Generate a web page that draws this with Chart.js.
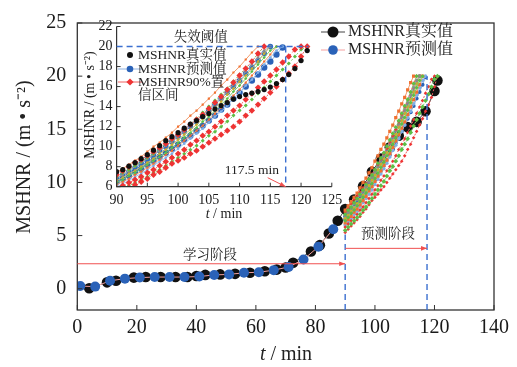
<!DOCTYPE html>
<html>
<head>
<meta charset="utf-8">
<script src="https://cdn.jsdelivr.net/npm/chart.js@4.4.1/dist/chart.umd.min.js"></script>
<style>
  html, body { margin: 0; padding: 0; background: #fff; }
  #wrap { position: relative; width: 517px; height: 367px; }
  #wrap canvas { position: absolute; left: 0; top: 0; }
</style>
</head>
<body>
<div id="wrap">
  <canvas id="main" width="517" height="367"></canvas>
  <canvas id="inset" width="517" height="367"></canvas>
</div>
<script>
// --- Data ---
// learning phase (0-90 min)
const learnTrueT = [4, 10, 13, 19, 23, 28, 33, 37, 40, 43, 48, 53, 58, 63, 67, 70, 72.5, 78.5, 81.5, 84.5, 87.5];
const learnTrueV = [0.05, 0.6, 0.75, 1.05, 1.1, 1.1, 1.1, 1.1, 1.2, 1.3, 1.35, 1.4, 1.5, 1.65, 1.8, 2.0, 2.45, 3.5, 4.1, 5.2, 6.4];
const learnPredT = [1, 6, 11, 16, 21, 26, 31, 36, 41, 46, 51, 56, 61, 66, 71, 76, 81, 86];
const learnPredV = [0.25, 0.2, 0.75, 0.95, 1.05, 1.1, 1.1, 1.1, 1.15, 1.3, 1.35, 1.5, 1.55, 1.75, 2.05, 2.75, 3.95, 5.6];

// prediction phase (90-121 min), 1 min grid
const predT = [90, 91, 92, 93, 94, 95, 96, 97, 98, 99, 100, 101, 102, 103, 104, 105,
  106, 107, 108, 109, 110, 111, 112, 113, 114, 115, 116, 117, 118, 119, 120, 121];
const trueV = [7.5, 7.7, 8.05, 8.4, 8.8, 9.2, 9.65, 10.1, 10.6, 11.0, 11.4, 11.85, 12.25, 12.6, 13.0, 13.3,
  13.75, 14.1, 14.4, 14.75, 15.0, 15.2, 15.35, 15.5, 15.7, 15.95, 16.3, 16.7, 17.2, 17.8, 18.6, 19.6];
const predV = [6.5, 6.8, 7.1, 7.5, 7.8, 8.2, 8.6, 9.0, 9.4, 9.8, 10.2, 10.7, 11.1, 11.6, 12.1, 12.6,
  13.1, 13.7, 14.2, 14.8, 15.4, 16.0, 16.6, 17.2, 17.9, 18.5, 19.2, 19.9];
const redUpper = [7.2, 7.6, 8.0, 8.4, 8.7, 9.1, 9.5, 9.9, 10.3, 10.8, 11.2, 11.7, 12.2, 12.7, 13.2, 13.8,
  14.4, 15.0, 15.7, 16.4, 17.1, 17.8, 18.5, 19.3, 20.0];
const redMid = [5.8, 6.1, 6.4, 6.7, 7.0, 7.4, 7.7, 8.1, 8.5, 8.9, 9.3, 9.7, 10.2, 10.6, 11.1, 11.5,
  12.0, 12.5, 13.1, 13.6, 14.1, 14.7, 15.3, 15.9, 16.5, 17.1, 17.7, 18.4, 19.0, 19.7, 20.0];
const redLower = [5.3, 5.6, 5.9, 6.2, 6.5, 6.8, 7.2, 7.5, 7.9, 8.3, 8.6, 8.9, 9.3, 9.6, 10.0, 10.4,
  10.8, 11.2, 11.6, 12.0, 12.5, 13.1, 13.6, 14.2, 14.8, 15.4, 16.0, 16.7, 17.3, 18.0, 19.0, 20.0];
const greenUpper = [7.0, 7.4, 7.7, 8.1, 8.5, 8.9, 9.3, 9.8, 10.3, 10.7, 11.2, 11.8, 12.3, 12.8, 13.4, 14.0,
  14.6, 15.2, 15.8, 16.5, 17.2, 17.8, 18.5, 19.3, 20.0];
const greenMid = [6.4, 6.7, 7.1, 7.4, 7.8, 8.2, 8.6, 9.0, 9.4, 9.9, 10.4, 10.9, 11.4, 11.9, 12.5, 13.0,
  13.6, 14.2, 14.8, 15.5, 16.1, 16.8, 17.5, 18.2, 18.9, 19.6, 20.0];
const greenLower = [5.5, 5.8, 6.1, 6.4, 6.7, 7.0, 7.4, 7.7, 8.1, 8.5, 8.9, 9.3, 9.7, 10.1, 10.6, 11.1,
  11.5, 12.0, 12.5, 13.1, 13.6, 14.1, 14.7, 15.3, 15.9, 16.5, 17.1, 17.7, 18.3, 19.0, 19.7, 20.0];
const orangeA = [7.4, 7.8, 8.2, 8.6, 9.0, 9.5, 10.0, 10.4, 10.9, 11.4, 12.0, 12.5, 13.1, 13.6, 14.2, 14.8,
  15.4, 16.1, 16.7, 17.4, 18.0, 18.7, 19.4, 20.0];
const orangeB = [6.2, 6.5, 6.8, 7.2, 7.5, 7.9, 8.3, 8.7, 9.2, 9.6, 10.1, 10.6, 11.1, 11.6, 12.1, 12.7,
  13.3, 13.9, 14.5, 15.1, 15.7, 16.4, 17.1, 17.8, 18.5, 19.2, 20.0];
const grayA = [6.9, 7.2, 7.6, 8.0, 8.4, 8.8, 9.2, 9.6, 10.1, 10.5, 11.0, 11.5, 12.1, 12.6, 13.2, 13.7,
  14.3, 14.9, 15.5, 16.2, 16.8, 17.5, 18.2, 18.9, 19.6, 20.0];
const oliveA = [6.6, 6.9, 7.3, 7.6, 8.0, 8.4, 8.8, 9.3, 9.7, 10.2, 10.7, 11.2, 11.7, 12.2, 12.8, 13.3,
  13.9, 14.5, 15.2, 15.8, 16.5, 17.1, 17.8, 18.5, 19.3, 20.0];
const lightBlue = [6.0, 6.3, 6.6, 7.0, 7.3, 7.7, 8.1, 8.5, 8.9, 9.3, 9.8, 10.3, 10.8, 11.3, 11.8, 12.4,
  13.0, 13.5, 14.1, 14.8, 15.4, 16.1, 16.7, 17.4, 18.2, 18.9, 19.6, 20.0];
const blueB = [6.8, 7.2, 7.5, 7.9, 8.3, 8.7, 9.1, 9.6, 10.0, 10.5, 11.0, 11.5, 12.0, 12.5, 13.0, 13.6,
  14.2, 14.8, 15.4, 16.0, 16.6, 17.3, 17.9, 18.6, 19.3, 20.0];

const threshold = 20;
const failTime = 117.5;
const learnEnd = 90;

// tick labels
const mainXTicks = [0, 20, 40, 60, 80, 100, 120, 140];
const mainYTicks = [0, 5, 10, 15, 20, 25];
const insetXTicks = [90, 95, 100, 105, 110, 115, 120, 125];
const insetYTicks = [6, 8, 10, 12, 14, 16, 18, 20, 22];

// --- Helpers ---
const serif = '"Liberation Serif", "Times New Roman", "Noto Serif CJK SC", "Noto Sans CJK SC", serif';
const pts = (xs, ys) => ys.map((v, i) => ({ x: xs[i], y: v }));

function arrow(ctx, x1, y1, x2, y2, color) {
  ctx.save();
  ctx.strokeStyle = color; ctx.fillStyle = color; ctx.lineWidth = 1;
  ctx.beginPath(); ctx.moveTo(x1, y1); ctx.lineTo(x2, y2); ctx.stroke();
  const a = Math.atan2(y2 - y1, x2 - x1), L = 6, W = 2.3;
  ctx.beginPath();
  ctx.moveTo(x2, y2);
  ctx.lineTo(x2 - L * Math.cos(a) + W * Math.sin(a), y2 - L * Math.sin(a) - W * Math.cos(a));
  ctx.lineTo(x2 - L * Math.cos(a) - W * Math.sin(a), y2 - L * Math.sin(a) + W * Math.cos(a));
  ctx.closePath(); ctx.fill();
  ctx.restore();
}
function dashed(ctx, x1, y1, x2, y2) {
  ctx.save();
  ctx.strokeStyle = '#3b6fd0'; ctx.lineWidth = 1.4; ctx.setLineDash([6, 4]);
  ctx.beginPath(); ctx.moveTo(x1, y1); ctx.lineTo(x2, y2); ctx.stroke();
  ctx.restore();
}
function text(ctx, s, x, y, size, align = 'center') {
  ctx.save();
  ctx.fillStyle = '#222'; ctx.font = size + 'px ' + serif;
  ctx.textAlign = align; ctx.textBaseline = 'middle';
  ctx.fillText(s, x, y);
  ctx.restore();
}
function tMin(ctx, cx, cy, size) {
  ctx.save();
  ctx.fillStyle = '#222'; ctx.textBaseline = 'middle'; ctx.textAlign = 'left';
  ctx.font = 'italic ' + size + 'px ' + serif;
  const w1 = ctx.measureText('t').width;
  ctx.font = size + 'px ' + serif;
  const w2 = ctx.measureText(' / min').width;
  const x0 = cx - (w1 + w2) / 2;
  ctx.font = 'italic ' + size + 'px ' + serif;
  ctx.fillText('t', x0, cy);
  ctx.font = size + 'px ' + serif;
  ctx.fillText(' / min', x0 + w1, cy);
  ctx.restore();
}
function yTitle(ctx, cx, cy, size) {
  ctx.save();
  ctx.translate(cx, cy); ctx.rotate(-Math.PI / 2);
  ctx.fillStyle = '#222'; ctx.font = size + 'px ' + serif;
  ctx.textAlign = 'center'; ctx.textBaseline = 'middle';
  ctx.fillText('MSHNR / (m \u2022 s\u207B\u00B2)', 0, 0);
  ctx.restore();
}
function inwardTicks(chart, len) {
  const { ctx, chartArea: a, scales: { x, y } } = chart;
  ctx.save();
  ctx.strokeStyle = '#333'; ctx.lineWidth = 1;
  ctx.beginPath();
  x.ticks.forEach(t => { const p = x.getPixelForValue(t.value); ctx.moveTo(p, a.bottom); ctx.lineTo(p, a.bottom - len); });
  y.ticks.forEach(t => { const p = y.getPixelForValue(t.value); ctx.moveTo(a.left, p); ctx.lineTo(a.left + len, p); });
  ctx.stroke();
  ctx.restore();
}
function marker(ctx, style, x, y, r, color) {
  ctx.save();
  ctx.fillStyle = color;
  ctx.beginPath();
  if (style === 'rectRot') {
    ctx.moveTo(x, y - r); ctx.lineTo(x + r, y); ctx.lineTo(x, y + r); ctx.lineTo(x - r, y); ctx.closePath();
  } else {
    ctx.arc(x, y, r, 0, Math.PI * 2);
  }
  ctx.fill();
  ctx.restore();
}

// forest styles (one per curve); mo = draw order in the main chart
const forestStyle = [
  { data: redUpper, color: '#ee3333', line: '#f06060', style: 'rectRot', dash: [2, 2], r: 3.2, mr: 1.8, mo: 5 },
  { data: redMid, color: '#ee3333', line: '#f06060', style: 'rectRot', dash: [2, 2], r: 3.2, mr: 1.8, mo: 5 },
  { data: redLower, color: '#ee3333', line: '#f06060', style: 'rectRot', dash: [2, 2], r: 3.2, mr: 1.8, mo: 5 },
  { data: greenUpper, color: '#5cbf45', line: '#7fcf6a', style: 'rectRot', dash: [2, 2], r: 2, mr: 2.2, mo: 4 },
  { data: greenMid, color: '#5cbf45', line: '#7fcf6a', style: 'rectRot', dash: [], r: 1.6, mr: 2, mo: 4 },
  { data: greenLower, color: '#5cbf45', line: '#7fcf6a', style: 'rectRot', dash: [2, 2], r: 2, mr: 2.4, mo: 4 },
  { data: orangeA, color: '#f07030', line: '#f39a6a', style: 'rect', dash: [], r: 1.5, mr: 2.3, mo: 4 },
  { data: orangeB, color: '#f07030', line: '#f39a6a', style: 'rect', dash: [], r: 1.5, mr: 2.3, mo: 4 },
  { data: grayA, color: '#8a8a8a', line: '#a8a8a8', style: 'circle', dash: [], r: 1.4, mr: 1.8, mo: 5 },
  { data: oliveA, color: '#c8ac30', line: '#d4bf60', style: 'circle', dash: [], r: 1.4, mr: 1.8, mo: 5 },
  { data: lightBlue, color: '#7eaee6', line: '#9cc2ee', style: 'circle', dash: [], r: 1.4, mr: 1.8, mo: 5 },
  { data: blueB, color: '#2f6cc0', line: '#86ade4', style: 'circle', dash: [], r: 2.8, mr: 2, mo: 5 },
  { data: predV, color: '#2a62b8', line: '#8fb2e0', style: 'circle', dash: [], r: 3.2, mr: 2, mo: 5 }
];

function forestSets(big) {
  return forestStyle.map(f => ({
    data: pts(predT, f.data),
    borderColor: f.line,
    borderWidth: 1,
    borderDash: f.dash,
    backgroundColor: f.color,
    pointStyle: f.style,
    pointRadius: big ? f.r : f.mr,
    pointBorderWidth: 0,
    pointBackgroundColor: f.color,
    order: big ? 5 : f.mo
  }));
}

// --- Main chart ---
const mainTrueT = learnTrueT.concat(predT.filter((t, i) => i % 3 === 0 || i === predT.length - 1));
const mainTrueV = learnTrueV.concat(trueV.filter((v, i) => i % 3 === 0 || i === trueV.length - 1));

const mainDeco = {
  id: 'mainDeco',
  beforeDraw(chart) {
    const { ctx } = chart;
    ctx.save(); ctx.fillStyle = '#fff'; ctx.fillRect(0, 0, chart.width, chart.height); ctx.restore();
  },
  afterDraw(chart) {
    const { ctx, chartArea: a, scales: { x, y } } = chart;
    // frame
    ctx.save(); ctx.strokeStyle = '#333'; ctx.lineWidth = 1.3;
    ctx.strokeRect(a.left, a.top, a.right - a.left, a.bottom - a.top); ctx.restore();
    inwardTicks(chart, 5);
    // phase markers
    dashed(ctx, x.getPixelForValue(learnEnd), a.bottom, x.getPixelForValue(learnEnd), y.getPixelForValue(5.1));
    dashed(ctx, x.getPixelForValue(failTime), a.bottom, x.getPixelForValue(failTime), y.getPixelForValue(threshold));
    arrow(ctx, x.getPixelForValue(0), y.getPixelForValue(2.35), x.getPixelForValue(learnEnd), y.getPixelForValue(2.35), '#f05050');
    arrow(ctx, x.getPixelForValue(learnEnd), y.getPixelForValue(3.8), x.getPixelForValue(failTime), y.getPixelForValue(3.8), '#f05050');
    text(ctx, '学习阶段', x.getPixelForValue(44.6), y.getPixelForValue(3.15), 13.5);
    text(ctx, '预测阶段', x.getPixelForValue(104.4), y.getPixelForValue(5.07), 13.5);
    // titles
    yTitle(ctx, 25, 157, 20);
    tMin(ctx, 286, 355, 20);
    // legend
    ctx.save(); ctx.lineWidth = 1;
    ctx.strokeStyle = '#444'; ctx.beginPath(); ctx.moveTo(321, 32); ctx.lineTo(345, 32); ctx.stroke();
    ctx.strokeStyle = '#f5a0a0'; ctx.beginPath(); ctx.moveTo(321, 50); ctx.lineTo(345, 50); ctx.stroke();
    ctx.restore();
    marker(ctx, 'circle', 333, 32, 5.5, '#111');
    marker(ctx, 'circle', 333, 50, 4.8, '#2a62b8');
    text(ctx, 'MSHNR真实值', 348, 32, 16, 'left');
    text(ctx, 'MSHNR预测值', 348, 50, 16, 'left');
  }
};

new Chart(document.getElementById('main'), {
  type: 'line',
  data: {
    datasets: [
      { data: pts(learnPredT, learnPredV), borderColor: '#f4a0a0', borderWidth: 1, pointRadius: 5,
        pointBackgroundColor: '#2a62b8', pointBorderWidth: 0, order: 0 },
      { data: pts(mainTrueT, mainTrueV), borderColor: '#444', borderWidth: 1, pointRadius: 5.3,
        pointBackgroundColor: '#111', pointBorderWidth: 0, order: 6 }
    ].concat(forestSets(false))
  },
  options: {
    responsive: false,
    animation: false,
    events: [],
    layout: { padding: { left: 0, top: 16, right: 23, bottom: 0 } },
    plugins: { legend: { display: false }, tooltip: { enabled: false } },
    elements: { line: { tension: 0 } },
    scales: {
      x: {
        type: 'linear', min: 0, max: 140,
        afterBuildTicks: s => { s.ticks = mainXTicks.map(v => ({ value: v })); },
        afterFit: s => { s.height = 57; },
        grid: { display: false, drawTicks: false },
        border: { display: false },
        ticks: { font: { family: serif, size: 20 }, color: '#1a1a1a', padding: 6, maxRotation: 0, autoSkip: false }
      },
      y: {
        type: 'linear', min: -2, max: 25,
        afterBuildTicks: s => { s.ticks = mainYTicks.map(v => ({ value: v })); },
        afterFit: s => { s.width = 77.3; },
        grid: { display: false, drawTicks: false },
        border: { display: false },
        ticks: { font: { family: serif, size: 20 }, color: '#1a1a1a', padding: 11 }
      }
    }
  },
  plugins: [mainDeco]
});

// --- Inset chart ---
const insetDeco = {
  id: 'insetDeco',
  afterDraw(chart) {
    const { ctx, chartArea: a, scales: { x, y } } = chart;
    ctx.save(); ctx.strokeStyle = '#333'; ctx.lineWidth = 1.2;
    ctx.beginPath(); ctx.moveTo(a.left, a.top); ctx.lineTo(a.left, a.bottom); ctx.lineTo(a.right, a.bottom); ctx.stroke();
    ctx.restore();
    inwardTicks(chart, 4);
    // failure threshold
    dashed(ctx, x.getPixelForValue(90), y.getPixelForValue(threshold), x.getPixelForValue(121.2), y.getPixelForValue(threshold));
    dashed(ctx, x.getPixelForValue(failTime), y.getPixelForValue(threshold), x.getPixelForValue(failTime), a.bottom);
    text(ctx, '失效阈值', x.getPixelForValue(103.7), y.getPixelForValue(20.95), 13.5);
    text(ctx, '117.5 min', x.getPixelForValue(112), y.getPixelForValue(7.66), 13.5);
    const ex = x.getPixelForValue(failTime), ey = y.getPixelForValue(6);
    arrow(ctx, ex - 18, ey - 9, ex, ey, '#f05050');
    // titles
    yTitle(ctx, 90, 105, 14);
    tMin(ctx, 224, 214, 14);
    // legend
    ctx.save(); ctx.lineWidth = 1;
    ctx.strokeStyle = '#8fb2e0'; ctx.beginPath(); ctx.moveTo(118, 69); ctx.lineTo(142, 69); ctx.stroke();
    ctx.strokeStyle = '#f06060'; ctx.beginPath(); ctx.moveTo(118, 82); ctx.lineTo(142, 82); ctx.stroke();
    ctx.restore();
    marker(ctx, 'circle', 130, 55, 3, '#111');
    marker(ctx, 'circle', 130, 69, 3.3, '#2a62b8');
    marker(ctx, 'rectRot', 130, 82, 3.6, '#ee3333');
    text(ctx, 'MSHNR真实值', 138, 55, 13.5, 'left');
    text(ctx, 'MSHNR预测值', 138, 69, 13.5, 'left');
    text(ctx, 'MSHNR90%置', 138, 82, 13.5, 'left');
    text(ctx, '信区间', 138, 95, 13.5, 'left');
  }
};

new Chart(document.getElementById('inset'), {
  type: 'line',
  data: {
    datasets: [
      { data: pts(predT, trueV), showLine: false, pointRadius: 2.6, pointBackgroundColor: '#111',
        pointBorderWidth: 0, order: 0 }
    ].concat(forestSets(true))
  },
  options: {
    responsive: false,
    animation: false,
    events: [],
    layout: { padding: { left: 0, top: 26.5, right: 185.2, bottom: 0 } },
    plugins: { legend: { display: false }, tooltip: { enabled: false } },
    elements: { line: { tension: 0 } },
    scales: {
      x: {
        type: 'linear', min: 90, max: 125,
        afterBuildTicks: s => { s.ticks = insetXTicks.map(v => ({ value: v })); },
        afterFit: s => { s.height = 180.3; },
        grid: { display: false, drawTicks: false },
        border: { display: false },
        ticks: { font: { family: serif, size: 14 }, color: '#1a1a1a', padding: 5, maxRotation: 0, autoSkip: false }
      },
      y: {
        type: 'linear', min: 6, max: 22,
        afterBuildTicks: s => { s.ticks = insetYTicks.map(v => ({ value: v })); },
        afterFit: s => { s.width = 116.6; },
        grid: { display: false, drawTicks: false },
        border: { display: false },
        ticks: { font: { family: serif, size: 14 }, color: '#1a1a1a', padding: 4 }
      }
    }
  },
  plugins: [insetDeco]
});
</script>
</body>
</html>
